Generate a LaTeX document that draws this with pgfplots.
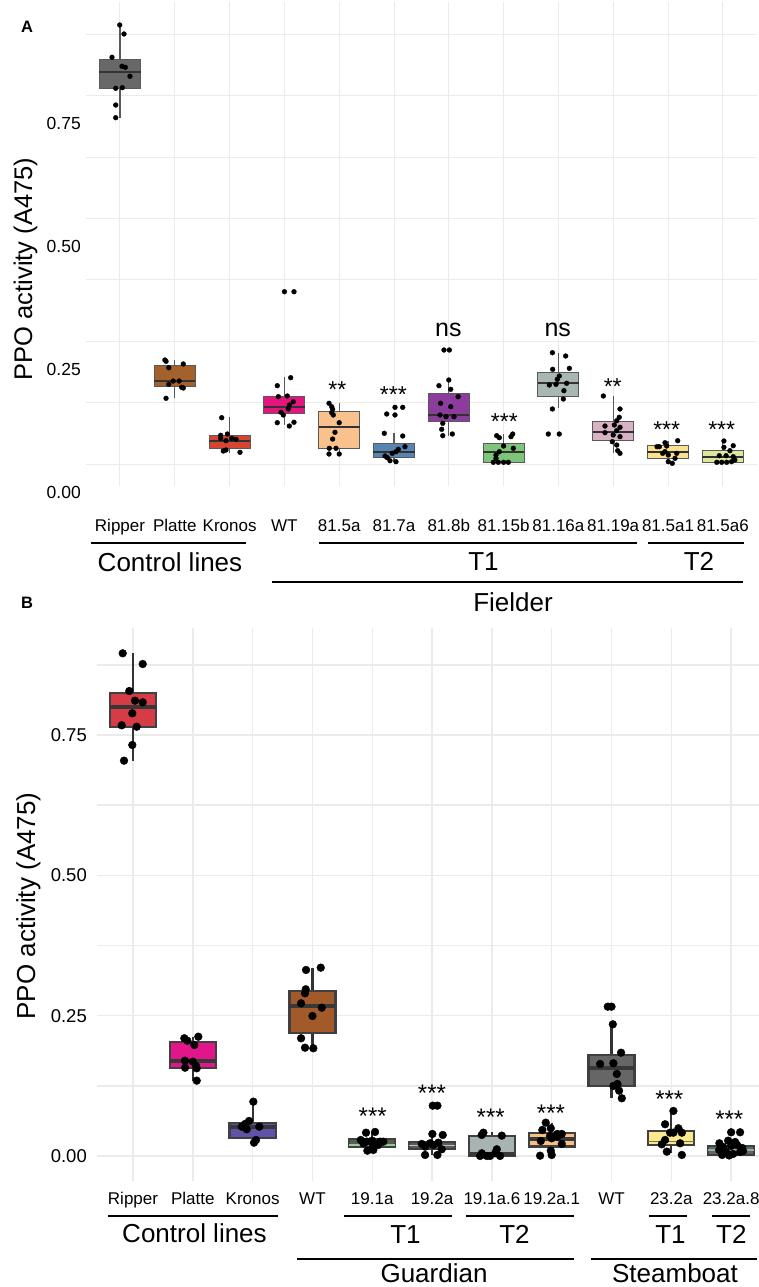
\documentclass[border=0pt]{standalone}
\usepackage{fontspec}
\setmainfont{Liberation Sans}
\usepackage{pgfplots}
\pgfplotsset{compat=1.18}
\usepgfplotslibrary{statistics}
\newcommand{\fs}[1]{\fontsize{#1}{#1}\selectfont}
\definecolor{gridc}{HTML}{EBEBEB}
% panel A colours
\definecolor{aRip}{HTML}{686868}
\definecolor{aPla}{HTML}{A5612C}
\definecolor{aKro}{HTML}{D6452F}
\definecolor{aWT}{HTML}{E5147F}
\definecolor{aFa}{HTML}{F9C28D}
\definecolor{aFb}{HTML}{5784B3}
\definecolor{aFc}{HTML}{8B3C9D}
\definecolor{aFd}{HTML}{7CC57A}
\definecolor{aFe}{HTML}{A8B7B2}
\definecolor{aFf}{HTML}{D8B1C4}
\definecolor{aFg}{HTML}{FBE08D}
\definecolor{aFh}{HTML}{DFE79C}
% panel B colours
\definecolor{bRip}{HTML}{D63C45}
\definecolor{bPla}{HTML}{E0168A}
\definecolor{bKro}{HTML}{5F52A8}
\definecolor{bWT}{HTML}{A35A2A}
\definecolor{bGa}{HTML}{5A5A5A}
\definecolor{bGaM}{HTML}{8FD08A}
\definecolor{bGbM}{HTML}{D9B3B6}
\definecolor{bGc}{HTML}{A7B4B2}
\definecolor{bGd}{HTML}{F8BF85}
\definecolor{bSWT}{HTML}{666666}
\definecolor{bSa}{HTML}{FBE98E}
\definecolor{bSaM}{HTML}{77774F}
\definecolor{bSb}{HTML}{5E6A61}
\definecolor{bSbM}{HTML}{9AAB9D}
\begin{document}
\begin{tikzpicture}
\clip (0pt,0pt) rectangle (759pt,1287pt);
% ---------------- Panel A ----------------
\begin{axis}[
  at={(86pt,801pt)}, anchor=south west, scale only axis,
  width=671pt, height=484pt,
  xmin=0.3796, xmax=12.624, ymin=-0.0448, ymax=0.9415,
  xtick={1,...,12},
  xticklabels={Ripper,Platte,Kronos,WT,81.5a,81.7a,81.8b,81.15b,81.16a,81.19a,81.5a1,81.5a6},
  ytick={0,0.25,0.5,0.75}, yticklabels={0.00,0.25,0.50,0.75},
  minor ytick={0.125,0.375,0.625,0.875},
  xmajorgrids, ymajorgrids, yminorgrids,
  grid style={color=gridc, line width=1pt},
  minor grid style={color=gridc, line width=1pt},
  major tick length=0pt, minor tick length=0pt,
  tick style={draw=none},
  axis line style={draw=none},
  xticklabel style={anchor=base, yshift=-46pt, font=\fs{17}, inner sep=0pt},
  yticklabel style={anchor=east, xshift=-5pt, yshift=-28pt, font=\fs{17.5}, inner sep=0pt},
  boxplot/draw direction=y,
  boxplot/box extend=0.75,
  boxplot/whisker extend=0,
  boxplot/every whisker/.style={draw=black!65, line width=1.1pt},
  boxplot/every median/.style={draw=black!80, line width=1.8pt},
  boxplot/every box/.style={draw=black!65, line width=1pt},
]
\addplot[boxplot prepared={draw position=1, lower whisker=0.7057, lower quartile=0.7642, median=0.7995, upper quartile=0.8247, upper whisker=0.8946}, fill=aRip] coordinates {};
\addplot[boxplot prepared={draw position=2, lower whisker=0.1351, lower quartile=0.1575, median=0.1698, upper quartile=0.2011, upper whisker=0.2119}, fill=aPla] coordinates {};
\addplot[boxplot prepared={draw position=3, lower whisker=0.0230, lower quartile=0.0326, median=0.0475, upper quartile=0.0577, upper whisker=0.0964}, fill=aKro] coordinates {};
\addplot[boxplot prepared={draw position=4, lower whisker=0.0795, lower quartile=0.1025, median=0.1155, upper quartile=0.1372, upper whisker=0.1767}, fill=aWT] coordinates {};
\addplot[boxplot prepared={draw position=5, lower whisker=0.0204, lower quartile=0.0320, median=0.0748, upper quartile=0.1080, upper whisker=0.1237}, fill=aFa] coordinates {};
\addplot[boxplot prepared={draw position=6, lower whisker=0.0047, lower quartile=0.0137, median=0.0238, upper quartile=0.0408, upper whisker=0.0638}, fill=aFb] coordinates {};
\addplot[boxplot prepared={draw position=7, lower whisker=0.0577, lower quartile=0.0876, median=0.0999, upper quartile=0.1433, upper whisker=0.1712}, fill=aFc] coordinates {};
\addplot[boxplot prepared={draw position=8, lower whisker=0.0035, lower quartile=0.0035, median=0.0238, upper quartile=0.0408, upper whisker=0.0611}, fill=aFd] coordinates {};
\addplot[boxplot prepared={draw position=9, lower whisker=0.1135, lower quartile=0.1372, median=0.1657, upper quartile=0.1869, upper whisker=0.2268}, fill=aFe] coordinates {};
\addplot[boxplot prepared={draw position=10, lower whisker=0.0218, lower quartile=0.0475, median=0.0658, upper quartile=0.0862, upper whisker=0.1386}, fill=aFf] coordinates {};
\addplot[boxplot prepared={draw position=11, lower whisker=0.0014, lower quartile=0.0116, median=0.0251, upper quartile=0.0387, upper whisker=0.0475}, fill=aFg] coordinates {};
\addplot[boxplot prepared={draw position=12, lower whisker=0.0035, lower quartile=0.0035, median=0.0137, upper quartile=0.0285, upper whisker=0.0469}, fill=aFh] coordinates {};
\addplot[only marks, mark=*, mark size=2.4pt, color=black] coordinates {
(0.995,0.8946) (1.073,0.8763) (0.854,0.8288) (1.036,0.8105) (1.097,0.8084) (1.182,0.7901) (0.922,0.7656) (1.042,0.7669) (0.922,0.7315) (0.922,0.7057)
(1.82,0.2119) (1.84,0.2093) (1.89,0.1962) (2.155,0.2038) (1.97,0.1691) (2.08,0.1691) (1.89,0.1624) (2.126,0.1563) (2.155,0.1549) (1.84,0.1339)
(2.856,0.0944) (2.838,0.0585) (2.96,0.0611) (2.934,0.0475) (3.117,0.0503) (3.038,0.0524) (2.885,0.0265) (2.934,0.0285) (3.19,0.0238) (2.838,0.0524)
(4.0,0.3511) (4.175,0.3511) (4.115,0.1759) (3.87,0.1596) (3.89,0.1372) (4.053,0.1386) (4.162,0.1270) (4.09,0.1202) (4.07,0.1121) (3.938,0.1054) (3.98,0.0999) (3.87,0.0842) (4.09,0.0774) (4.175,0.0850)
(4.814,0.1237) (4.863,0.1168) (4.88,0.1115) (4.892,0.0999) (4.863,0.1045) (5.0,0.0842) (4.923,0.0646) (4.88,0.0509) (4.82,0.0320) (4.942,0.0320) (4.814,0.0204) (5.0,0.0204)
(6.018,0.1155) (6.159,0.1155) (5.867,0.1019) (6.018,0.0999) (5.823,0.0626) (6.159,0.0571) (6.2,0.0353) (6.078,0.0300) (6.036,0.0251) (5.969,0.0218) (5.878,0.0128) (5.927,0.0067) (6.036,0.0047) (5.836,0.0163)
(6.912,0.2323) (7.01,0.2323) (7.0,0.1712) (6.82,0.1596) (7.035,0.1522) (7.17,0.1372) (6.85,0.1237) (7.035,0.1168) (6.84,0.0999) (6.95,0.0964) (7.095,0.0964) (6.89,0.0829) (6.87,0.0707) (6.89,0.0577) (7.064,0.0611)
(7.874,0.0577) (7.922,0.0536) (8.166,0.0611) (8.135,0.0557) (8.0,0.0367) (8.177,0.0320) (7.922,0.0251) (7.861,0.0183) (7.812,0.0035) (7.903,0.0035) (8.0,0.0035) (8.086,0.0035) (7.861,0.0116)
(8.816,0.0611) (9.016,0.0611) (8.89,0.2268) (9.133,0.2201) (8.896,0.1930) (9.2,0.1950) (9.016,0.1793) (8.98,0.1726) (8.834,0.1610) (8.956,0.1624) (9.15,0.1645) (9.1,0.1494) (9.09,0.1325) (8.89,0.1121)
(9.82,0.1386) (10.124,0.1121) (10.11,0.0952) (10.064,0.0882) (10.02,0.0795) (10.124,0.0748) (9.85,0.0638) (10.064,0.0679) (10.0,0.0591) (10.124,0.0557) (9.984,0.0454) (10.064,0.0387) (10.082,0.0271) (10.124,0.0218) (9.85,0.0774)
(10.945,0.0434) (11.177,0.0475) (10.841,0.0353) (10.976,0.0367) (10.903,0.0218) (11.005,0.0183) (11.159,0.0218) (11.005,0.0047) (11.078,0.0014) (11.128,0.0116) (10.945,0.0251) (10.8,0.0353)
(12.02,0.0469) (12.19,0.0373) (12.13,0.0271) (11.936,0.0169) (12.06,0.0169) (12.19,0.0149) (11.89,0.0035) (11.98,0.0035) (12.07,0.0035) (12.16,0.0047) (12.22,0.0082) (12.02,0.0340)
};
\end{axis}
% ---------------- Panel B ----------------
\begin{axis}[
  at={(97pt,106pt)}, anchor=south west, scale only axis,
  width=670pt, height=553pt,
  xmin=0.398, xmax=11.6, ymin=-0.0446, ymax=0.9407,
  xtick={1,...,11},
  xticklabels={Ripper,Platte,Kronos,WT,19.1a,19.2a,19.1a.6,19.2a.1,WT,23.2a,23.2a.8},
  ytick={0,0.25,0.5,0.75}, yticklabels={0.00,0.25,0.50,0.75},
  minor ytick={0.125,0.375,0.625,0.875},
  xmajorgrids, ymajorgrids, yminorgrids,
  grid style={color=gridc, line width=1.5pt},
  minor grid style={color=gridc, line width=1.5pt},
  major tick length=0pt, minor tick length=0pt,
  tick style={draw=none},
  axis line style={draw=none},
  xticklabel style={anchor=base, yshift=-24pt, font=\fs{17}, inner sep=0pt},
  yticklabel style={anchor=east, xshift=-10pt, font=\fs{18.5}, inner sep=0pt},
  boxplot/draw direction=y,
  boxplot/box extend=0.77,
  boxplot/whisker extend=0,
  boxplot/every whisker/.style={draw=black!80, line width=2.2pt},
  boxplot/every median/.style={draw=black!78, line width=3.8pt},
  boxplot/every box/.style={draw=black!75, line width=2.3pt},
]
\addplot[boxplot prepared={draw position=1, lower whisker=0.7043, lower quartile=0.7648, median=0.7994, upper quartile=0.8254, upper whisker=0.8956}, fill=bRip] coordinates {};
\addplot[boxplot prepared={draw position=2, lower whisker=0.1342, lower quartile=0.1573, median=0.1693, upper quartile=0.2036, upper whisker=0.2125}, fill=bPla] coordinates {};
\addplot[boxplot prepared={draw position=3, lower whisker=0.0237, lower quartile=0.0321, median=0.0511, upper quartile=0.0593, upper whisker=0.0967}, fill=bKro] coordinates {};
\addplot[boxplot prepared={draw position=4, lower whisker=0.1919, lower quartile=0.2197, median=0.2678, upper quartile=0.2945, upper whisker=0.3355}, fill=bWT] coordinates {};
\addplot[boxplot prepared={draw position=5, lower whisker=0.0094, lower quartile=0.0155, median=0.0196, upper quartile=0.0298, upper whisker=0.0428, every median/.style={draw=bGaM, line width=1.6pt}}, fill=bGa] coordinates {};
\addplot[boxplot prepared={draw position=6, lower whisker=0.0018, lower quartile=0.0119, median=0.0184, upper quartile=0.0244, upper whisker=0.0392, every median/.style={draw=bGbM, line width=1.6pt}}, fill=bGa] coordinates {};
\addplot[boxplot prepared={draw position=7, lower whisker=0.0, lower quartile=0.0, median=0.0036, upper quartile=0.0356, upper whisker=0.0422}, fill=bGc] coordinates {};
\addplot[boxplot prepared={draw position=8, lower whisker=0.0005, lower quartile=0.0166, median=0.0298, upper quartile=0.0404, upper whisker=0.0593}, fill=bGd] coordinates {};
\addplot[boxplot prepared={draw position=9, lower whisker=0.1028, lower quartile=0.1247, median=0.1573, upper quartile=0.1799, upper whisker=0.2346}, fill=bSWT] coordinates {};
\addplot[boxplot prepared={draw position=10, lower whisker=0.0048, lower quartile=0.0196, median=0.0255, upper quartile=0.0451, upper whisker=0.0802, every median/.style={draw=bSaM, line width=1.3pt}}, fill=bSa] coordinates {};
\addplot[boxplot prepared={draw position=11, lower whisker=0.0009, lower quartile=0.0018, median=0.0107, upper quartile=0.0178, upper whisker=0.0273, every median/.style={draw=bSbM, line width=1.6pt}}, fill=bSb] coordinates {};
\addplot[only marks, mark=*, mark size=3.9pt, color=black] coordinates {
(0.828,0.8956) (1.162,0.8765) (0.938,0.8284) (1.033,0.8112) (1.162,0.8083) (0.988,0.7887) (0.811,0.7673) (1.062,0.7648) (0.988,0.7322) (0.85,0.7043)
(1.858,0.2097) (1.908,0.2054) (2.092,0.2125) (2.025,0.1978) (1.87,0.1698) (2.0,0.1680) (2.054,0.1603) (1.87,0.1573) (2.065,0.1562) (2.065,0.1342)
(3.012,0.0967) (2.94,0.0624) (2.873,0.0570) (2.818,0.0522) (2.901,0.0476) (3.112,0.0522) (3.057,0.0285) (3.023,0.0237)
(3.893,0.3314) (4.139,0.3355) (3.888,0.2970) (3.876,0.2899) (3.81,0.2720) (4.156,0.2642) (4.0,0.2494) (3.81,0.2097) (3.876,0.1929) (4.015,0.1919)
(4.896,0.0415) (5.047,0.0428) (4.808,0.0285) (4.908,0.0255) (5.0,0.0273) (5.13,0.0255) (5.186,0.0255) (5.008,0.0166) (5.1,0.0196) (4.918,0.0094) (5.018,0.0107) (4.851,0.0226)
(6.012,0.0896) (6.089,0.0896) (6.005,0.0392) (6.179,0.0374) (5.828,0.0214) (5.883,0.0166) (6.022,0.0196) (6.162,0.0119) (6.089,0.0018) (5.883,0.0018) (5.967,0.0226) (6.105,0.0237)
(6.858,0.0415) (6.831,0.0374) (7.166,0.0362) (6.831,0.0048) (6.97,0.0) (7.082,0.0119) (7.137,0.0) (7.054,0.0048) (6.915,0.0) (6.803,0.0)
(7.901,0.0593) (7.985,0.0493) (7.844,0.0463) (8.095,0.0392) (8.169,0.0392) (7.973,0.0356) (8.0,0.0315) (8.095,0.0344) (7.818,0.0267) (8.169,0.0214) (7.985,0.0094) (8.0,0.0018) (7.806,0.0005)
(8.938,0.2660) (9.0,0.2660) (9.022,0.2346) (9.16,0.1840) (8.81,0.1639) (9.032,0.1652) (9.089,0.1461) (9.032,0.1247) (9.099,0.1283) (9.127,0.1163) (9.172,0.1028)
(10.035,0.0802) (9.896,0.0565) (10.119,0.0493) (10.176,0.0415) (9.98,0.0415) (9.896,0.0285) (10.147,0.0226) (9.841,0.0208) (9.925,0.0077) (10.176,0.0018) (10.035,0.0415)
(11.0,0.0422) (11.15,0.0422) (10.804,0.0226) (10.95,0.0273) (11.067,0.0249) (10.866,0.0160) (11.0,0.0178) (11.1,0.0196) (11.184,0.0143) (10.8,0.0107) (10.916,0.0071) (11.033,0.0036) (11.15,0.0071) (10.85,0.0018) (10.967,0.0009) (11.2,0.0089)
};
\end{axis}
% ---------------- annotations (pixel coordinates, y down) ----------------
\begin{scope}[x=1pt,y=-1pt,yshift=1287pt]
\node[anchor=base west, inner sep=0pt, font=\bfseries\fs{16.5}] at (21,32.7) {A};
\node[anchor=base west, inner sep=0pt, font=\bfseries\fs{16.5}] at (21,609) {B};
\node[rotate=90, anchor=base, inner sep=0pt, font=\fs{25.5}] at (32,269) {PPO activity (A475)};
\node[rotate=90, anchor=base, inner sep=0pt, font=\fs{26}] at (35,906) {PPO activity (A475)};
% significance A
\begin{scope}[every node/.style={anchor=base, inner sep=0pt}]
\node[font=\fs{23}] at (337.3,398) {**};
\node[font=\fs{23}] at (393.3,403) {***};
\node[font=\fs{25}] at (448.3,336.5) {ns};
\node[font=\fs{23}] at (504.3,430) {***};
\node[font=\fs{25}] at (557.7,336.5) {ns};
\node[font=\fs{23}] at (612.7,395) {**};
\node[font=\fs{23}] at (666.7,438) {***};
\node[font=\fs{23}] at (721.7,438) {***};
% significance B
\node[font=\fs{24}] at (372.7,1124.7) {***};
\node[font=\fs{24}] at (432,1102) {***};
\node[font=\fs{24}] at (490.7,1125.4) {***};
\node[font=\fs{24}] at (551,1122) {***};
\node[font=\fs{24}] at (669.3,1108) {***};
\node[font=\fs{24}] at (729.3,1127.7) {***};
% group labels A
\node[font=\fs{26}] at (170,571.7) {Control lines};
\node[font=\fs{26}] at (483.5,570.7) {T1};
\node[font=\fs{26}] at (699,570.7) {T2};
\node[font=\fs{26}] at (513,612) {Fielder};
% group labels B
\node[font=\fs{26}] at (194.5,1243) {Control lines};
\node[font=\fs{26}] at (405.5,1244) {T1};
\node[font=\fs{26}] at (514.5,1244) {T2};
\node[font=\fs{26}] at (670.5,1244) {T1};
\node[font=\fs{26}] at (731.3,1244) {T2};
\node[font=\fs{26}] at (434,1282) {Guardian};
\node[font=\fs{26}] at (675,1282) {Steamboat};
\end{scope}
\begin{scope}[line width=1.6pt]
\draw (91,543) -- (246,543);
\draw (319,543) -- (637,543);
\draw (648,543) -- (744,543);
\draw (272,582) -- (743,582);
\draw (108,1216) -- (278,1216);
\draw (344,1216) -- (452,1216);
\draw (466,1216) -- (574,1216);
\draw (649,1216) -- (687,1216);
\draw (712,1216) -- (750,1216);
\draw (297,1259) -- (574,1259);
\draw (591,1259) -- (757,1259);
\end{scope}
\end{scope}
\end{tikzpicture}
\end{document}
